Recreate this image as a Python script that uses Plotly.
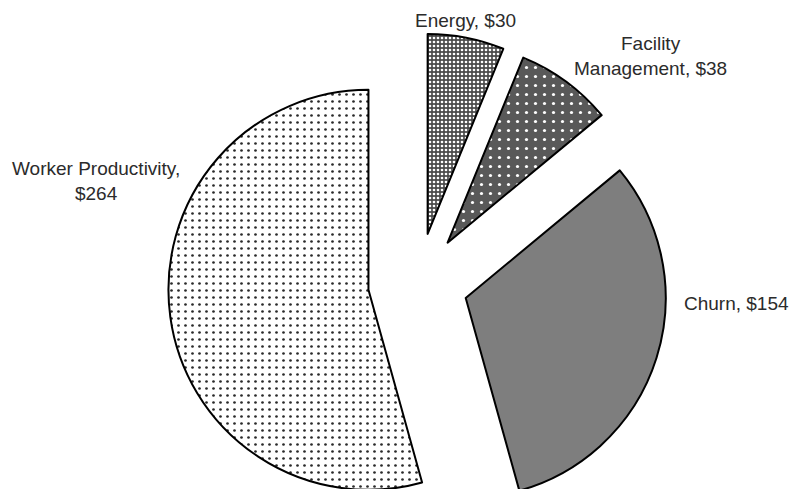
import plotly.graph_objects as go

# Annual cost breakdown (dollars)
categories = ["Energy", "Facility Management", "Churn", "Worker Productivity"]
costs = [30, 38, 154, 264]

# How each category name is broken across lines in its label, and what joins it to the value
label_names = ["Energy", "Facility<br>Management", "Churn", "Worker Productivity"]
label_joins = [", ", ", ", ", ", ",<br>"]

# Canvas size in pixels (the lower part of the exploded pie runs past the visible area)
W, H = 795, 566

# Label anchor points in pixels (centre of each text block)
label_px = [(465, 20), (650, 56), (736, 303), (96, 181)]

# Slice fills: patterned greys
pattern_shapes = [".", ".", "", "."]
pattern_fg = ["white", "white", "#7e7e7e", "#2a2a2a"]
pattern_bg = ["#4c4c4c", "#595959", "#7e7e7e", "white"]
pattern_size = [4, 9, 4, 7]
pattern_solid = [0.35, 0.1, 0.3, 0.12]
slice_colors = ["#4c4c4c", "#595959", "#7e7e7e", "white"]

fig = go.Figure(
    go.Pie(
        labels=categories,
        values=costs,
        sort=False,
        direction="clockwise",
        rotation=0,
        pull=[0.25] * len(costs),
        textinfo="none",
        hoverinfo="label+value",
        showlegend=False,
        domain=dict(x=[168 / W, 668 / W], y=[0, 1]),
        marker=dict(
            colors=slice_colors,
            line=dict(color="black", width=2),
            pattern=dict(
                shape=pattern_shapes,
                fgcolor=pattern_fg,
                bgcolor=pattern_bg,
                size=pattern_size,
                solidity=pattern_solid,
                fillmode="replace",
            ),
        ),
    )
)

annotations = []
for name, join, value, (px, py) in zip(label_names, label_joins, costs, label_px):
    annotations.append(
        dict(
            text=f"{name}{join}${value}",
            x=px / W,
            y=1 - py / H,
            xref="paper",
            yref="paper",
            xanchor="center",
            yanchor="middle",
            align="center",
            showarrow=False,
            font=dict(family="Liberation Sans, Arial, sans-serif", size=19, color="#2b2b2b"),
        )
    )

fig.update_layout(
    width=W,
    height=H,
    margin=dict(l=0, r=0, t=0, b=0),
    paper_bgcolor="white",
    plot_bgcolor="white",
    annotations=annotations,
)

fig.write_html(
    "out.html",
    post_script="document.documentElement.style.overflow='hidden';document.body.style.overflow='hidden';document.body.style.margin='0';",
)
